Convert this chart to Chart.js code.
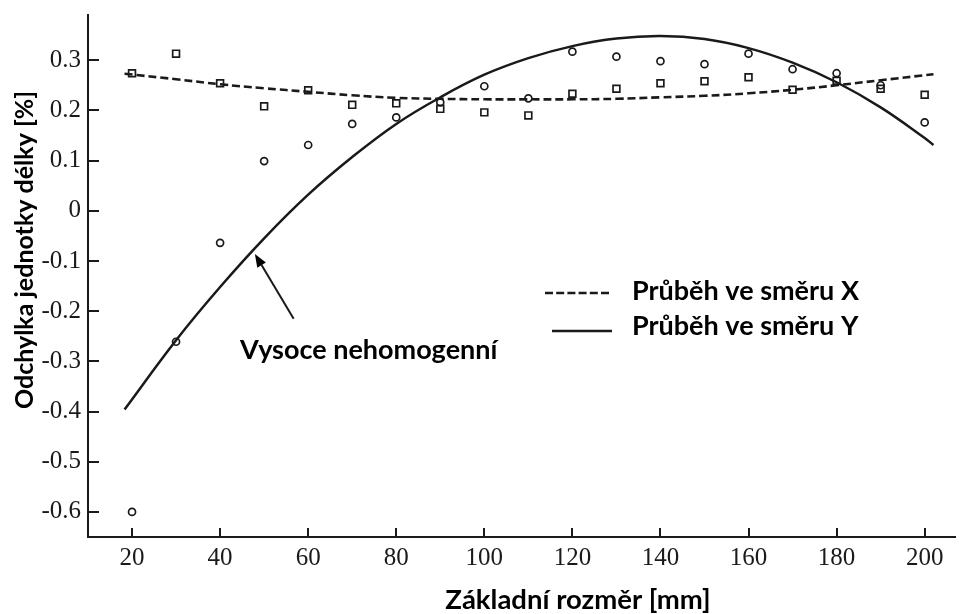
<!DOCTYPE html>
<html><head><meta charset="utf-8">
<script src="https://cdn.jsdelivr.net/npm/chart.js@4.4.0/dist/chart.umd.min.js"></script>
<style>html,body{margin:0;padding:0;background:#fff}#wrap{width:962px;height:614px;position:relative}</style>
</head><body><div id="wrap"><canvas id="c"></canvas></div>
<script>
// ---- data ----
const xTickValues = [20, 40, 60, 80, 100, 120, 140, 160, 180, 200];
const yTickValues = [0.3, 0.2, 0.1, 0, -0.1, -0.2, -0.3, -0.4, -0.5, -0.6];
const yTickLabels = ['0.3', '0.2', '0.1', '0', '-0.1', '-0.2', '-0.3', '-0.4', '-0.5', '-0.6'];

// fitted trend, direction X (dashed)
const trendXx = [18.3, 30, 40, 50, 60, 70, 80, 90, 100, 110, 120, 130, 140, 150, 160, 170, 180, 190, 202];
const trendXy = [0.273, 0.262, 0.252, 0.244, 0.237, 0.230, 0.225, 0.223, 0.222, 0.222, 0.222, 0.223, 0.226, 0.229, 0.234, 0.241, 0.250, 0.260, 0.272];
// fitted trend, direction Y (solid)
const trendYx = [18.3, 30, 40, 50, 60, 70, 80, 90, 100, 110, 120, 130, 140, 150, 160, 170, 180, 190, 200, 202];
const trendYy = [-0.396, -0.258, -0.152, -0.055, 0.032, 0.107, 0.173, 0.226, 0.271, 0.304, 0.328, 0.343, 0.348, 0.342, 0.324, 0.295, 0.256, 0.206, 0.145, 0.131];

// measured points
const measX = [20, 30, 40, 50, 60, 70, 80, 90, 100, 110, 120, 130, 140, 150, 160, 170, 180, 190, 200];
const measXy = [0.274, 0.313, 0.254, 0.208, 0.240, 0.211, 0.214, 0.203, 0.196, 0.190, 0.233, 0.243, 0.254, 0.258, 0.266, 0.241, 0.259, 0.243, 0.231];
const measYy = [-0.600, -0.261, -0.064, 0.099, 0.131, 0.173, 0.186, 0.216, 0.248, 0.224, 0.317, 0.307, 0.298, 0.292, 0.313, 0.282, 0.274, 0.250, 0.176];

const legendLabels = ['Průběh ve směru X', 'Průběh ve směru Y'];
const xTitle = 'Základní rozměr [mm]';
const yTitle = 'Odchylka jednotky délky [%]';
const noteText = 'Vysoce nehomogenní';

// ---- styling / placement ----
const INK = '#1a1a1a';
const arrowTip = {x: 47.9, y: -0.086};
const arrowTail = {x: 56.7, y: -0.215};

const pts = (xs, ys) => xs.map((x, i) => ({x: x, y: ys[i]}));

const decor = {
  id: 'decor',
  afterDraw(chart) {
    const ctx = chart.ctx, xs = chart.scales.x, ys = chart.scales.y, a = chart.chartArea;
    ctx.save();
    ctx.strokeStyle = INK; ctx.fillStyle = INK; ctx.lineWidth = 2;
    // inward tick marks
    ctx.beginPath();
    yTickValues.forEach(v => { const p = Math.round(ys.getPixelForValue(v)); ctx.moveTo(a.left, p); ctx.lineTo(a.left + 11, p); });
    xTickValues.forEach(v => { const p = Math.round(xs.getPixelForValue(v)); ctx.moveTo(p, a.bottom); ctx.lineTo(p, a.bottom - 9); });
    ctx.stroke();

    // axis titles
    ctx.fillStyle = '#000';
    ctx.textAlign = 'center'; ctx.textBaseline = 'alphabetic';
    ctx.font = 'bold 27.5px Lato';
    ctx.fillText(xTitle, 578, 609);
    ctx.save();
    ctx.font = 'bold 25px Lato';
    ctx.translate(33, 250); ctx.rotate(-Math.PI / 2);
    ctx.fillText(yTitle, 0, 0);
    ctx.restore();

    // legend
    ctx.font = 'bold 27px Lato';
    ctx.textAlign = 'left';
    ctx.fillText(legendLabels[0], 632, 299.5);
    ctx.fillText(legendLabels[1], 632, 335);
    ctx.lineWidth = 2.6;
    ctx.setLineDash([8, 3.2]);
    ctx.beginPath(); ctx.moveTo(545, 293); ctx.lineTo(612, 293); ctx.stroke();
    ctx.setLineDash([]);
    ctx.beginPath(); ctx.moveTo(552, 331); ctx.lineTo(612, 331); ctx.stroke();

    // annotation
    ctx.font = 'bold 27px Lato';
    ctx.fillText(noteText, 240, 359);
    const tx = xs.getPixelForValue(arrowTip.x), ty = ys.getPixelForValue(arrowTip.y);
    const sx = xs.getPixelForValue(arrowTail.x), sy = ys.getPixelForValue(arrowTail.y);
    const ang = Math.atan2(ty - sy, tx - sx);
    const hl = 13, hw = 5;
    const bx = tx - hl * Math.cos(ang), by = ty - hl * Math.sin(ang);
    ctx.lineWidth = 2;
    ctx.beginPath(); ctx.moveTo(sx, sy); ctx.lineTo(bx, by); ctx.stroke();
    ctx.beginPath();
    ctx.moveTo(tx, ty);
    ctx.lineTo(bx + hw * Math.sin(ang), by - hw * Math.cos(ang));
    ctx.lineTo(bx - hw * Math.sin(ang), by + hw * Math.cos(ang));
    ctx.closePath(); ctx.fill();
    ctx.restore();
  }
};

new Chart(document.getElementById('c'), {
  type: 'scatter',
  data: {
    datasets: [
      {label: 'X body', data: pts(measX, measXy), pointStyle: 'rect', pointRadius: 4.8, borderWidth: 1.7,
       borderColor: INK, backgroundColor: 'rgba(255,255,255,0)', order: 1},
      {label: 'Y body', data: pts(measX, measYy), pointStyle: 'circle', pointRadius: 3.5, borderWidth: 1.7,
       borderColor: INK, backgroundColor: 'rgba(255,255,255,0)', order: 2},
      {label: legendLabels[0], data: pts(trendXx, trendXy), showLine: true, pointRadius: 0, borderWidth: 2.6,
       borderColor: INK, borderDash: [8, 4], tension: 0.4, order: 3},
      {label: legendLabels[1], data: pts(trendYx, trendYy), showLine: true, pointRadius: 0, borderWidth: 2.5,
       borderColor: INK, tension: 0.4, order: 4}
    ]
  },
  options: {
    responsive: true, maintainAspectRatio: false, animation: false,
    layout: {padding: {top: 15, right: 2, left: 0, bottom: 0}},
    plugins: {legend: {display: false}, tooltip: {enabled: false}},
    scales: {
      x: {
        type: 'linear', min: 10, max: 207,
        grid: {display: false, drawTicks: false},
        border: {display: true, color: INK, width: 2},
        afterBuildTicks: s => { s.ticks = xTickValues.map(v => ({value: v})); },
        ticks: {padding: 6, color: INK, font: {family: 'Liberation Serif', size: 25}, maxRotation: 0, autoSkip: false,
                callback: v => String(v)},
        afterFit: s => { s.height = 77; s.paddingLeft = 0; s.paddingRight = 0; }
      },
      y: {
        type: 'linear', min: -0.65, max: 0.39,
        grid: {display: false, drawTicks: false},
        border: {display: true, color: INK, width: 2},
        afterBuildTicks: s => { s.ticks = yTickValues.map(v => ({value: v})); },
        ticks: {padding: 7, color: INK, font: {family: 'Liberation Serif', size: 25}, autoSkip: false,
                callback: (v) => { const i = yTickValues.findIndex(t => Math.abs(t - v) < 1e-9); return i >= 0 ? yTickLabels[i] : ''; }},
        afterFit: s => { s.width = 88; s.paddingTop = 0; s.paddingBottom = 0; }
      }
    }
  },
  plugins: [decor]
});
</script>
</body></html>
